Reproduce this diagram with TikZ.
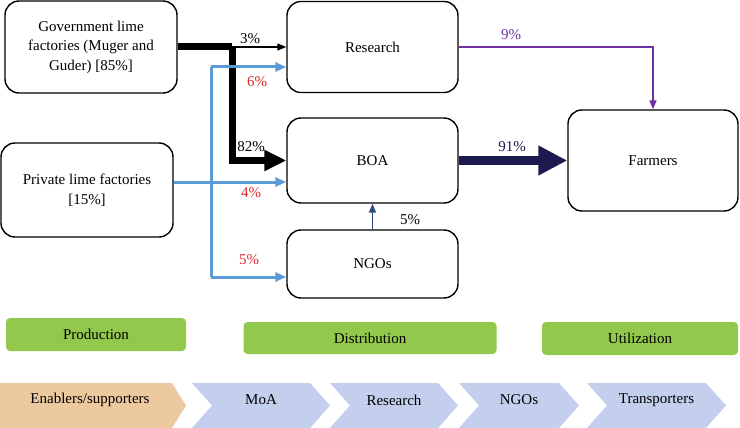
\documentclass[tikz,border=0pt]{standalone}
\usepackage{fontspec}
\setmainfont{Liberation Serif}
\usetikzlibrary{arrows.meta, positioning}
\definecolor{cblue}{HTML}{5B9BD5}
\definecolor{cred}{HTML}{E0262A}
\definecolor{cpurple}{HTML}{7030A0}
\definecolor{cnavy}{HTML}{1C1A4E}
\definecolor{cdarkblue}{HTML}{2E4A7D}
\definecolor{cgreen}{HTML}{92C84C}
\definecolor{ctan}{HTML}{EDC9A0}
\definecolor{lightblue}{HTML}{C3CFEC}

\tikzset{
  every node/.style={font=\fontsize{15}{19.5}\selectfont},
  box/.style={draw, line width=1.4pt, rounded corners=14pt, align=center, inner sep=0pt},
  stage/.style={fill=cgreen, rounded corners=4pt, inner sep=0pt},
  pct/.style={inner sep=0pt}
}

\begin{document}
\begin{tikzpicture}[x=1pt, y=-1pt]
  \useasboundingbox (0,0) rectangle (740,428);

  % Actors
  \node[box, minimum width=172pt, minimum height=92pt] (gov) at (91,47)
    {Government lime\\factories (Muger and\\Guder) [85\%]};
  \node[box, minimum width=172pt, minimum height=94pt] (private) at (87,190)
    {Private lime factories\\{}[15\%]};
  \node[box, minimum width=171pt, minimum height=91pt] (research) at (372.5,47) {Research};
  \node[box, minimum width=171pt, minimum height=85pt] (boa) at (372.5,160.5) {BOA};
  \node[box, minimum width=171pt, minimum height=68pt] (ngos) at (372.5,264) {NGOs};
  \node[box, minimum width=170pt, minimum height=101pt] (farmers) at (653,160.5) {Farmers};

  % Government flow
  \coordinate (gj) at (232,47);
  \draw[line width=7pt] (gov.east) -- (gj);
  \draw[line width=7pt, -{Triangle[length=22pt, width=20pt]}] (gj) |- (boa.west);
  \draw[line width=1.5pt, -{Triangle[length=9pt, width=7pt]}] (gj) -- (research.west);
  \node[pct] (p3) at (250,39) {3\%};
  \node[pct] (p82) at (251,147) {82\%};

  % Private flow
  \coordinate (btop) at (211,67);
  \coordinate (bmid) at (211,182);
  \coordinate (bbot) at (211,277);
  \draw[cblue, line width=3pt] (btop) -- (bbot);
  \draw[cblue, line width=3pt, -{Triangle[length=11pt, width=9pt]}] (private.east |- bmid) -- (boa.west |- bmid);
  \draw[cblue, line width=3pt, -{Triangle[length=11pt, width=9pt]}] (btop) -- (research.west |- btop);
  \draw[cblue, line width=3pt, -{Triangle[length=11pt, width=9pt]}] (bbot) -- (ngos.west |- bbot);
  \node[pct, cred] (p6) at (257,82) {6\%};
  \node[pct, cred] (p4) at (251,193) {4\%};
  \node[pct, cred] (p5) at (249,260) {5\%};

  % To farmers
  \draw[cpurple, line width=1.5pt, -{Triangle[length=9pt, width=7pt]}] (research.east) -| (farmers.north);
  \node[pct, cpurple] (p9) at (511,35) {9\%};
  \draw[cnavy, line width=9pt, -{Triangle[length=29pt, width=28pt]}] (boa.east) -- (farmers.west);
  \node[pct, cnavy] (p91) at (512,147) {91\%};
  \draw[cdarkblue, line width=1.6pt, -{Triangle[length=9pt, width=7pt]}] (ngos.north) -- (boa.south);
  \node[pct] (pn5) at (410,220) {5\%};

  % Stages
  \node[stage, minimum width=180pt, minimum height=33pt] (prod) at (96,334.5) {Production};
  \node[stage, minimum width=253pt, minimum height=32pt] (dist) at (370,338) {Distribution};
  \node[stage, minimum width=196pt, minimum height=33pt] (util) at (640,338.5) {Utilization};

  % Enablers
  \fill[ctan] (0,383) -- (172,383) -- (186,405.5) -- (172,428) -- (0,428) -- cycle;
  \node (enab) at (90,400) {Enablers/supporters};
  \foreach \xl/\xr/\lbl [count=\i] in {192/310/MoA, 330/438/Research, 459/559/NGOs, 587/706/Transporters}{
    \fill[lightblue] (\xl,383) -- (\xr,383) -- (\xr+20,405.5) -- (\xr,428) -- (\xl,428) -- (\xl+20,405.5) -- cycle;
    \node (chev\i) at ({(\xl+\xr+20)/2},400) {\lbl};
  }
\end{tikzpicture}
\end{document}
